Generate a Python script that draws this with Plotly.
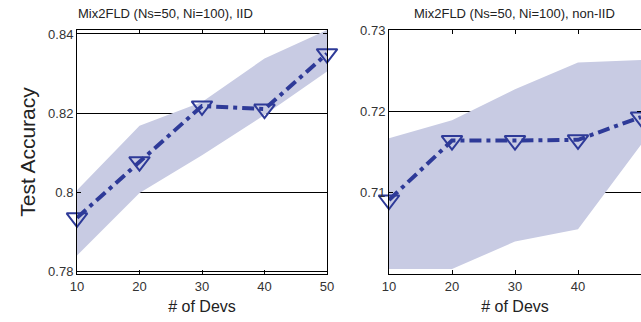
import plotly.graph_objects as go

devs = [10, 20, 30, 40, 50]

iid_mean = [0.7935, 0.8077, 0.8218, 0.8210, 0.8350]
iid_upper = [0.8005, 0.8168, 0.8228, 0.8338, 0.8410]
iid_lower = [0.7840, 0.7998, 0.8093, 0.8195, 0.8305]

noniid_mean = [0.7091, 0.7164, 0.7164, 0.7165, 0.7193]
noniid_upper = [0.7167, 0.7189, 0.7227, 0.7260, 0.7263]
noniid_lower = [0.7006, 0.7006, 0.7040, 0.7055, 0.7159]

titles = ["Mix2FLD (Ns=50, Ni=100), IID", "Mix2FLD (Ns=50, Ni=100), non-IID"]

LINE = "#2E3A98"
BAND = "rgba(200,203,227,1)"
FONT = "Liberation Sans, Arial, sans-serif"

fig = go.Figure()

def add_panel(xa, ya, mean, upper, lower):
    fig.add_trace(go.Scatter(x=devs, y=lower, mode="lines", line=dict(width=0),
                             xaxis=xa, yaxis=ya, showlegend=False, hoverinfo="skip"))
    fig.add_trace(go.Scatter(x=devs, y=upper, mode="lines", line=dict(width=0),
                             fill="tonexty", fillcolor=BAND,
                             xaxis=xa, yaxis=ya, showlegend=False, hoverinfo="skip"))
    fig.add_trace(go.Scatter(x=devs, y=mean, mode="lines+markers",
                             line=dict(color=LINE, width=4, dash="12px,5px,4px,5px"),
                             marker=dict(symbol="triangle-down-open", size=18,
                                         color=LINE, line=dict(width=2, color=LINE)),
                             cliponaxis=False,
                             xaxis=xa, yaxis=ya, showlegend=False))

add_panel("x", "y", iid_mean, iid_upper, iid_lower)
add_panel("x2", "y2", noniid_mean, noniid_upper, noniid_lower)

W, H = 641, 322
def px_x(p):
    return p / W
def px_y(p):
    return 1 - p / H

axis_common = dict(showline=True, linecolor="black", linewidth=1, mirror="ticks",
                   ticks="inside", ticklen=4, tickcolor="black",
                   tickfont=dict(family=FONT, size=13, color="#333333"),
                   zeroline=False, automargin=False)

fig.update_layout(
    width=W, height=H,
    margin=dict(l=0, r=0, t=0, b=0),
    paper_bgcolor="white", plot_bgcolor="white",
    font=dict(family=FONT),
    xaxis=dict(domain=[px_x(77), px_x(327)], range=[10, 50], tickvals=[10, 20, 30, 40, 50],
               showgrid=False, anchor="y",
               title=dict(text="# of Devs", font=dict(family=FONT, size=16, color="#222222"), standoff=8),
               **axis_common),
    yaxis=dict(domain=[px_y(274), px_y(30)], range=[0.7793, 0.8410],
               tickvals=[0.78, 0.80, 0.82, 0.84], ticktext=["0.78", "0.8", "0.82", "0.84"],
               showgrid=True, gridcolor="black", gridwidth=1, anchor="x",
               title=dict(text="Test Accuracy", font=dict(family=FONT, size=21, color="#222222"), standoff=6),
               **axis_common),
    xaxis2=dict(domain=[px_x(389), 1.0], range=[10, 50], tickvals=[10, 20, 30, 40, 50],
                showgrid=False, anchor="y2",
                title=dict(text="# of Devs", font=dict(family=FONT, size=16, color="#222222"), standoff=8),
                **axis_common),
    yaxis2=dict(domain=[px_y(274), px_y(30)], range=[0.700, 0.730],
                tickvals=[0.71, 0.72, 0.73], ticktext=["0.71", "0.72", "0.73"],
                showgrid=True, gridcolor="black", gridwidth=1, anchor="x2",
                **axis_common),
    annotations=[
        dict(text=titles[0], x=px_x(165), y=px_y(13), xref="paper", yref="paper",
             xanchor="center", yanchor="middle",
             showarrow=False, font=dict(family=FONT, size=13, color="#222222")),
        dict(text=titles[1], x=px_x(514), y=px_y(13), xref="paper", yref="paper",
             xanchor="center", yanchor="middle",
             showarrow=False, font=dict(family=FONT, size=13, color="#222222")),
    ],
)

fig.write_html("out.html", config={"displayModeBar": False},
               post_script="document.body.style.margin='0';document.body.style.overflow='hidden';")
